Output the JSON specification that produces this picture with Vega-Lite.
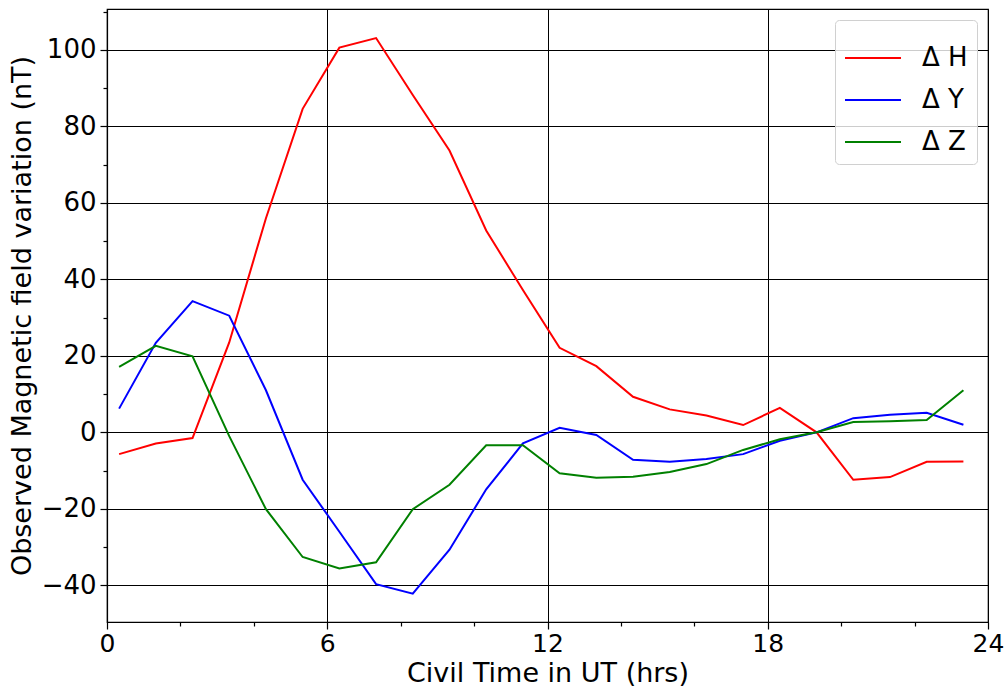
{
  "$schema": "https://vega.github.io/schema/vega-lite/v6.json",
  "width": 881,
  "height": 613,
  "autosize": {"type": "none"},
  "padding": {"left": 107, "top": 9, "right": 20, "bottom": 66},
  "background": "white",
  "config": {
    "font": "DejaVu Sans",
    "view": {"stroke": "black", "strokeWidth": 1.2},
    "axis": {
      "domainColor": "black",
      "domainWidth": 1.2,
      "tickColor": "black",
      "tickWidth": 1.2,
      "gridColor": "black",
      "gridWidth": 1,
      "labelColor": "black",
      "titleColor": "black",
      "labelFont": "DejaVu Sans",
      "titleFont": "DejaVu Sans",
      "labelFontSize": 26,
      "titleFontSize": 27,
      "titleFontWeight": "normal",
      "titleLimit": 1000
    }
  },
  "data": {
    "values": [
      {"t": 0.33, "s": "Δ H", "v": -5.7},
      {"t": 1.33, "s": "Δ H", "v": -2.9},
      {"t": 2.33, "s": "Δ H", "v": -1.5},
      {"t": 3.33, "s": "Δ H", "v": 23.5},
      {"t": 4.33, "s": "Δ H", "v": 56},
      {"t": 5.33, "s": "Δ H", "v": 84.6},
      {"t": 6.33, "s": "Δ H", "v": 100.6},
      {"t": 7.33, "s": "Δ H", "v": 103.1},
      {"t": 8.33, "s": "Δ H", "v": 88.2},
      {"t": 9.33, "s": "Δ H", "v": 73.7},
      {"t": 10.33, "s": "Δ H", "v": 52.8},
      {"t": 11.33, "s": "Δ H", "v": 37.2},
      {"t": 12.33, "s": "Δ H", "v": 22.1},
      {"t": 13.33, "s": "Δ H", "v": 17.3},
      {"t": 14.33, "s": "Δ H", "v": 9.3},
      {"t": 15.33, "s": "Δ H", "v": 6.0},
      {"t": 16.33, "s": "Δ H", "v": 4.4},
      {"t": 17.33, "s": "Δ H", "v": 1.9},
      {"t": 18.33, "s": "Δ H", "v": 6.4},
      {"t": 19.33, "s": "Δ H", "v": 0.0},
      {"t": 20.33, "s": "Δ H", "v": -12.4},
      {"t": 21.33, "s": "Δ H", "v": -11.7},
      {"t": 22.33, "s": "Δ H", "v": -7.7},
      {"t": 23.33, "s": "Δ H", "v": -7.6},
      {"t": 0.33, "s": "Δ Y", "v": 6.2},
      {"t": 1.33, "s": "Δ Y", "v": 23.4},
      {"t": 2.33, "s": "Δ Y", "v": 34.3},
      {"t": 3.33, "s": "Δ Y", "v": 30.5},
      {"t": 4.33, "s": "Δ Y", "v": 11.0},
      {"t": 5.33, "s": "Δ Y", "v": -12.4},
      {"t": 6.33, "s": "Δ Y", "v": -26.0},
      {"t": 7.33, "s": "Δ Y", "v": -39.7},
      {"t": 8.33, "s": "Δ Y", "v": -42.2},
      {"t": 9.33, "s": "Δ Y", "v": -30.7},
      {"t": 10.33, "s": "Δ Y", "v": -14.9},
      {"t": 11.33, "s": "Δ Y", "v": -2.9},
      {"t": 12.33, "s": "Δ Y", "v": 1.2},
      {"t": 13.33, "s": "Δ Y", "v": -0.7},
      {"t": 14.33, "s": "Δ Y", "v": -7.2},
      {"t": 15.33, "s": "Δ Y", "v": -7.7},
      {"t": 16.33, "s": "Δ Y", "v": -7.0},
      {"t": 17.33, "s": "Δ Y", "v": -5.7},
      {"t": 18.33, "s": "Δ Y", "v": -2.2},
      {"t": 19.33, "s": "Δ Y", "v": 0.0},
      {"t": 20.33, "s": "Δ Y", "v": 3.7},
      {"t": 21.33, "s": "Δ Y", "v": 4.6},
      {"t": 22.33, "s": "Δ Y", "v": 5.1},
      {"t": 23.33, "s": "Δ Y", "v": 2.0},
      {"t": 0.33, "s": "Δ Z", "v": 17.1},
      {"t": 1.33, "s": "Δ Z", "v": 22.6},
      {"t": 2.33, "s": "Δ Z", "v": 19.9},
      {"t": 3.33, "s": "Δ Z", "v": -1.0},
      {"t": 4.33, "s": "Δ Z", "v": -20.1},
      {"t": 5.33, "s": "Δ Z", "v": -32.6},
      {"t": 6.33, "s": "Δ Z", "v": -35.6},
      {"t": 7.33, "s": "Δ Z", "v": -34.0},
      {"t": 8.33, "s": "Δ Z", "v": -20.1},
      {"t": 9.33, "s": "Δ Z", "v": -13.7},
      {"t": 10.33, "s": "Δ Z", "v": -3.4},
      {"t": 11.33, "s": "Δ Z", "v": -3.4},
      {"t": 12.33, "s": "Δ Z", "v": -10.7},
      {"t": 13.33, "s": "Δ Z", "v": -11.9},
      {"t": 14.33, "s": "Δ Z", "v": -11.6},
      {"t": 15.33, "s": "Δ Z", "v": -10.4},
      {"t": 16.33, "s": "Δ Z", "v": -8.3},
      {"t": 17.33, "s": "Δ Z", "v": -4.6},
      {"t": 18.33, "s": "Δ Z", "v": -1.8},
      {"t": 19.33, "s": "Δ Z", "v": 0.0},
      {"t": 20.33, "s": "Δ Z", "v": 2.7},
      {"t": 21.33, "s": "Δ Z", "v": 2.9},
      {"t": 22.33, "s": "Δ Z", "v": 3.2},
      {"t": 23.33, "s": "Δ Z", "v": 11.0}
    ]
  },
  "mark": {"type": "line", "strokeWidth": 2, "clip": true},
  "encoding": {
    "x": {
      "field": "t",
      "type": "quantitative",
      "scale": {"domain": [0, 24], "nice": false, "zero": false},
      "axis": {
        "title": "Civil Time in UT (hrs)",
        "values": [0, 2, 4, 6, 8, 10, 12, 14, 16, 18, 20, 22, 24],
        "labelExpr": "datum.value % 6 === 0 ? datum.label : ''",
        "labelFontSize": 25,
        "tickSize": {"condition": {"test": "datum.value % 6 === 0", "value": 7}, "value": 4},
        "gridOpacity": {"condition": {"test": "datum.value % 6 === 0", "value": 1}, "value": 0},
        "grid": true,
        "labelPadding": 2,
        "titlePadding": 4,
        "labelFlush": false,
        "labelOverlap": false
      }
    },
    "y": {
      "field": "v",
      "type": "quantitative",
      "scale": {"domain": [-49.6, 110.7], "nice": false, "zero": false},
      "axis": {
        "title": "Observed Magnetic field variation (nT)",
        "values": [-40, -30, -20, -10, 0, 10, 20, 30, 40, 50, 60, 70, 80, 90, 100, 110],
        "labelExpr": "datum.value % 20 === 0 ? datum.label : ''",
        "tickSize": {"condition": {"test": "datum.value % 20 === 0", "value": 7}, "value": 4},
        "gridOpacity": {"condition": {"test": "datum.value % 20 === 0", "value": 1}, "value": 0},
        "grid": true,
        "labelPadding": 4,
        "titlePadding": 5,
        "labelFlush": false,
        "labelOverlap": false
      }
    },
    "color": {
      "field": "s",
      "type": "nominal",
      "scale": {"domain": ["Δ H", "Δ Y", "Δ Z"], "range": ["#ff0000", "#0000ff", "#008000"]},
      "legend": {
        "title": null,
        "orient": "top-right",
        "offset": 11,
        "padding": 9,
        "strokeColor": "#d0d0d0",
        "fillColor": "rgba(255,255,255,0.8)",
        "cornerRadius": 4,
        "symbolType": "stroke",
        "symbolSize": 3136,
        "symbolStrokeWidth": 2,
        "labelFontSize": 26,
        "labelFont": "DejaVu Sans",
        "labelColor": "black",
        "labelOffset": 20,
        "rowPadding": -8
      }
    }
  }
}
